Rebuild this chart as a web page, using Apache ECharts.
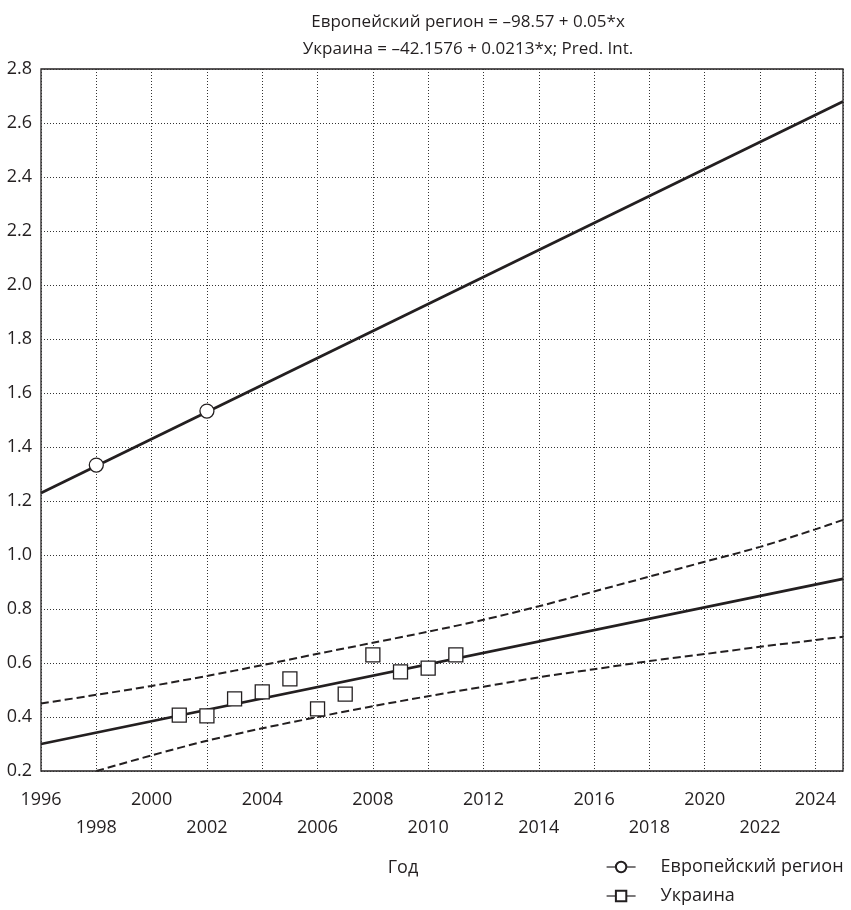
<!DOCTYPE html>
<html>
<head>
<meta charset="utf-8">
<script src="https://cdn.jsdelivr.net/npm/echarts@6/dist/echarts.min.js"></script>
<style>html,body{margin:0;padding:0;background:#fff}#c{width:851px;height:910px}</style>
</head>
<body>
<div id="c"></div>
<script>
// ---- data ----
const titleLines = ['Европейский регион = –98.57 + 0.05*x', 'Украина = –42.1576 + 0.0213*x; Pred. Int.'];
const xName = 'Год';
const seriesNames = ['Европейский регион', 'Украина'];

const euYears = [1998, 2002];
const euValues = [1.333, 1.533];
const euTrendYears = [1996, 2025];
const euTrendValues = [1.23, 2.68];

const uaYears = [2001, 2002, 2003, 2004, 2005, 2006, 2007, 2008, 2009, 2010, 2011];
const uaValues = [0.407, 0.404, 0.467, 0.493, 0.541, 0.430, 0.485, 0.630, 0.567, 0.581, 0.630];
const uaTrendYears = [1996, 2025];
const uaTrendValues = [0.30, 0.912];

const upperYears = [1996, 1998, 2000, 2002, 2004, 2006, 2008, 2010, 2012, 2014, 2016, 2018, 2020, 2022, 2024, 2025];
const upperValues = [0.45, 0.482, 0.515, 0.552, 0.592, 0.634, 0.675, 0.716, 0.76, 0.81, 0.865, 0.92, 0.975, 1.03, 1.095, 1.13];
const lowerYears = [1998, 2000, 2002, 2004, 2006, 2008, 2010, 2012, 2014, 2016, 2018, 2020, 2022, 2024, 2025];
const lowerValues = [0.20, 0.258, 0.312, 0.358, 0.40, 0.44, 0.477, 0.512, 0.547, 0.577, 0.607, 0.633, 0.66, 0.685, 0.697];

const xMin = 1996, xMax = 2025, xStep = 2;
const yMin = 0.2, yMax = 2.8, yStep = 0.2;

// ---- build ----
const zip = (a, b) => a.map((v, i) => [v, b[i]]);
const ink = '#231f20';
const FONT = 'Open Sans';
const FS = 18;

const chart = echarts.init(document.getElementById('c'), null, {renderer: 'canvas'});
chart.setOption({
  animation: false,
  backgroundColor: '#fff',
  textStyle: {fontFamily: FONT, color: ink},
  title: [{
    text: titleLines.join('\n'),
    left: 463, top: 4, textAlign: 'center',
    textStyle: {fontFamily: FONT, fontSize: 17, fontWeight: 'normal', color: ink, lineHeight: 27}
  }, {
    text: xName,
    left: 398, top: 854, textAlign: 'center',
    textStyle: {fontFamily: FONT, fontSize: FS, fontWeight: 'normal', color: ink}
  }],
  grid: {left: 41, right: 8, top: 69, bottom: 139, show: true, borderColor: ink, borderWidth: 1.3, backgroundColor: 'transparent'},
  legend: {
    orient: 'vertical', left: 601, top: 850, height: 80,
    itemWidth: 29, itemHeight: 13, itemGap: 5,
    data: seriesNames.map(n => ({name: n})),
    lineStyle: {width: 1.2, color: ink, opacity: 1},
    textStyle: {fontFamily: FONT, fontSize: FS, color: ink, padding: [0, 0, 0, 20], lineHeight: 24}
  },
  xAxis: {
    type: 'value', min: xMin, max: xMax, interval: xStep,
    axisLine: {show: false}, axisTick: {show: false},
    splitLine: {show: true, lineStyle: {color: '#333', width: 1, type: [1, 2]}},
    axisLabel: {
      fontFamily: FONT, fontSize: FS, color: ink, margin: 15, lineHeight: 28,
      showMaxLabel: false, showMinLabel: true,
      formatter: v => ((v - xMin) % 4 === 0 ? String(v) : '\n' + v)
    }
  },
  yAxis: {
    type: 'value', min: yMin, max: yMax, interval: yStep,
    axisLine: {show: false}, axisTick: {show: false},
    splitLine: {show: true, lineStyle: {color: '#333', width: 1, type: [1, 2]}},
    axisLabel: {fontFamily: FONT, fontSize: FS, color: ink, margin: 9, formatter: v => v.toFixed(1)}
  },
  series: [
    {type: 'line', data: zip(euTrendYears, euTrendValues), symbol: 'none', lineStyle: {color: ink, width: 2.8}, z: 3, silent: true},
    {type: 'line', data: zip(uaTrendYears, uaTrendValues), symbol: 'none', lineStyle: {color: ink, width: 2.8}, z: 3, silent: true},
    {type: 'line', data: zip(upperYears, upperValues), symbol: 'none', smooth: 0.3, lineStyle: {color: ink, width: 2, type: [8, 4]}, z: 3, silent: true},
    {type: 'line', data: zip(lowerYears, lowerValues), symbol: 'none', smooth: 0.3, lineStyle: {color: ink, width: 2, type: [8, 4]}, z: 3, silent: true},
    {name: seriesNames[0], type: 'line', data: zip(euYears, euValues), symbol: 'circle', symbolSize: 14,
     lineStyle: {width: 0, opacity: 0}, itemStyle: {color: '#fff', borderColor: ink, borderWidth: 1.3}, z: 5},
    {name: seriesNames[1], type: 'line', data: zip(uaYears, uaValues), symbol: 'rect', symbolSize: 14,
     lineStyle: {width: 0, opacity: 0}, itemStyle: {color: '#fff', borderColor: ink, borderWidth: 1.3}, z: 5}
  ]
});
</script>
</body>
</html>
